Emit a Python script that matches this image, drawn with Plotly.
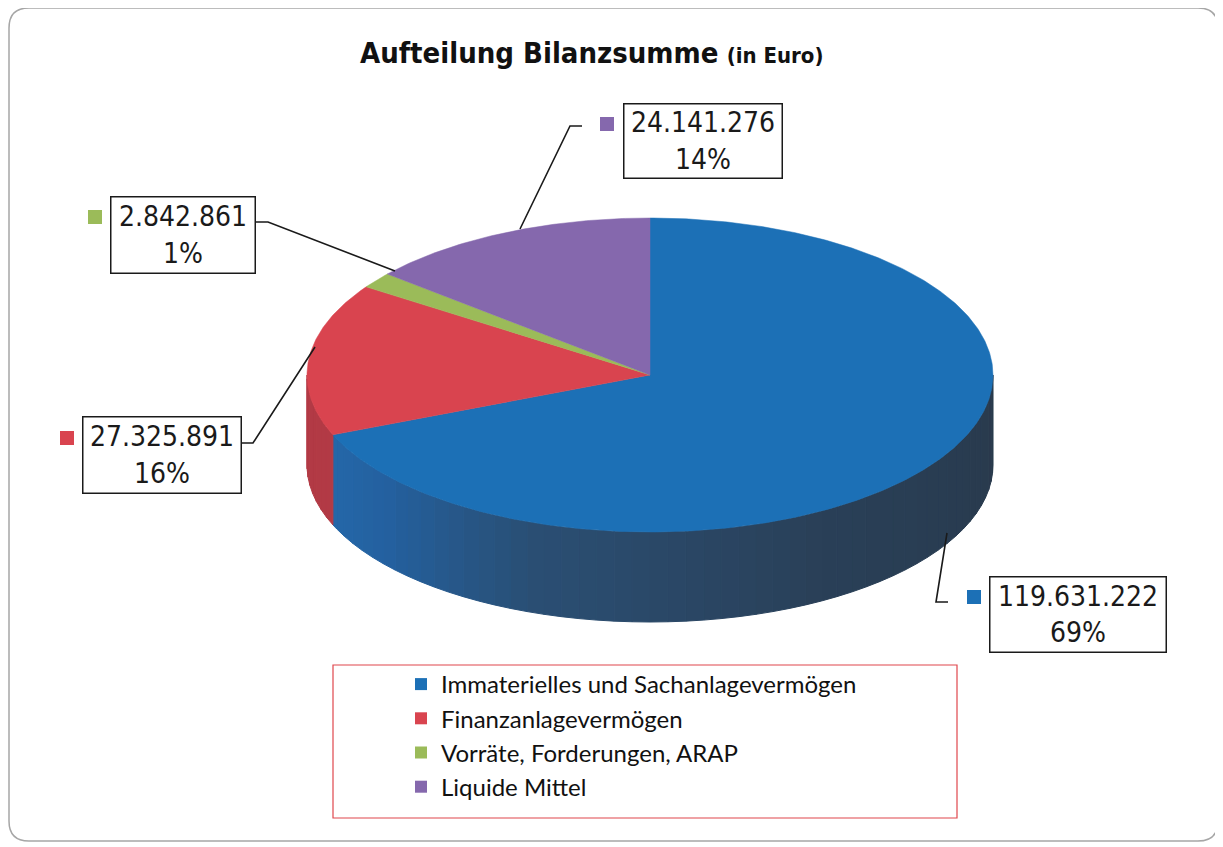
import numpy as np
import plotly.graph_objects as go

# ---------------- data ----------------
categories = [
    "Immaterielles und Sachanlagevermögen",
    "Finanzanlagevermögen",
    "Vorräte, Forderungen, ARAP",
    "Liquide Mittel",
]
values = [119631222, 27325891, 2842861, 24141276]
pct_labels = ["69%", "16%", "1%", "14%"]
title_main = "Aufteilung Bilanzsumme"
title_unit = "(in Euro)"

# ---------------- styles ----------------
top_colors = ["#1c70b6", "#d9444f", "#9bbb59", "#8568ad"]
side_red = "#b23a45"
W, H = 1223, 847
OFF = 8  # browser body margin
cx, cy, rx, ry, depth = 650, 375, 343, 157, 90

# label boxes (center x, center y, width, height), key square centre, leader path
boxes = [
    (1077.5, 614, 179, 78),
    (161.5, 454.5, 161, 79),
    (182.5, 234.5, 147, 79),
    (702.5, 140.5, 161, 77),
]
keys = [(974, 597), (67, 438), (95, 217), (607, 124)]
leaders = [
    [(948, 602), (936, 602), (947, 533)],
    [(242, 443), (253, 443), (315, 347)],
    [(256, 222), (268, 222), (395, 271)],
    [(582, 126), (570, 126), (520, 229)],
]

LABEL_FONT = "DejaVu Sans Condensed, DejaVu Sans, Liberation Sans, sans-serif"
LEGEND_FONT = "Lato, Open Sans, sans-serif"


def pt(theta_deg, dy=0.0):
    t = np.radians(theta_deg)
    return cx + rx * np.sin(t), cy - ry * np.cos(t) + dy


def hex2rgb(h):
    h = h.lstrip("#")
    return np.array([int(h[i:i + 2], 16) for i in (0, 2, 4)], dtype=float)


def interp_color(theta, stops):
    ths = [s[0] for s in stops]
    cols = [hex2rgb(s[1]) for s in stops]
    theta = min(max(theta, ths[0]), ths[-1])
    for i in range(len(ths) - 1):
        if ths[i] <= theta <= ths[i + 1]:
            f = (theta - ths[i]) / (ths[i + 1] - ths[i])
            c = cols[i] * (1 - f) + cols[i + 1] * f
            return "rgb(%d,%d,%d)" % tuple(c)
    c = cols[-1]
    return "rgb(%d,%d,%d)" % tuple(c)


blue_side_stops = [(90, "#293a4c"), (150, "#2a4058"), (200, "#2a4f74"),
                   (230, "#2461a0"), (249, "#2468aa")]

total = float(sum(values))
angles = np.concatenate([[0.0], np.cumsum(values) / total * 360.0])

fig = go.Figure()

# ---- side walls (front half only: 90..270 deg) ----
for i in range(len(values)):
    a0, a1 = angles[i], angles[i + 1]
    s0, s1 = max(a0, 90.0), min(a1, 270.0)
    if s1 <= s0:
        continue
    step = 3.0
    edges = list(np.arange(s0, s1, step)) + [s1]
    for j in range(len(edges) - 1):
        e0, e1 = edges[j], edges[j + 1]
        th = np.linspace(e0, e1, 6)
        xs_t, ys_t = pt(th)
        xs_b, ys_b = pt(th[::-1], depth)
        xs = np.concatenate([xs_t, xs_b, xs_t[:1]])
        ys = np.concatenate([ys_t, ys_b, ys_t[:1]])
        if i == 0:
            col = interp_color((e0 + e1) / 2, blue_side_stops)
        else:
            col = side_red
        fig.add_trace(go.Scatter(x=xs, y=ys, mode="lines", fill="toself",
                                 fillcolor=col, line=dict(color=col, width=1),
                                 hoverinfo="skip", showlegend=False))

# ---- top faces ----
for i in range(len(values)):
    a0, a1 = angles[i], angles[i + 1]
    th = np.linspace(a0, a1, max(int((a1 - a0) * 2), 4))
    xs, ys = pt(th)
    xs = np.concatenate([[cx], xs, [cx]])
    ys = np.concatenate([[cy], ys, [cy]])
    fig.add_trace(go.Scatter(x=xs, y=ys, mode="lines", fill="toself",
                             fillcolor=top_colors[i],
                             line=dict(color=top_colors[i], width=0.5),
                             hoverinfo="text",
                             text=categories[i], showlegend=False))

# ---- legend entries ----
for i, name in enumerate(categories):
    fig.add_trace(go.Scatter(x=[None], y=[None], mode="markers", name=name,
                             legendgroup=name,
                             marker=dict(symbol="square", size=12,
                                         color=top_colors[i])))

shapes = []
annotations = []

# outer rounded frame
r = 20
x0, y0, x1, y1 = 9, 8, 1218, 841
path = (f"M {x0 + r} {y0} L {x1 - r} {y0} Q {x1} {y0} {x1} {y0 + r} "
        f"L {x1} {y1 - r} Q {x1} {y1} {x1 - r} {y1} L {x0 + r} {y1} "
        f"Q {x0} {y1} {x0} {y1 - r} L {x0} {y0 + r} Q {x0} {y0} {x0 + r} {y0} Z")
shapes.append(dict(type="path", path=path, xref="x", yref="y",
                   line=dict(color="#a6a6a6", width=1.5), layer="below"))

# legend frame
shapes.append(dict(type="rect", xref="x", yref="y", x0=333, y0=665, x1=957,
                   y1=818, line=dict(color="#e0474c", width=1.2)))

for i in range(len(values)):
    bx, by, bw, bh = boxes[i]
    txt = f"{values[i]:,}".replace(",", ".") + "<br>" + pct_labels[i]
    annotations.append(dict(
        x=bx, y=by, xref="x", yref="y", text=txt, showarrow=False,
        xanchor="center", yanchor="middle", align="center",
        width=bw - 8, height=bh - 8, borderpad=2, borderwidth=1.5,
        bordercolor="#1a1a1a", bgcolor="white",
        font=dict(family=LABEL_FONT, size=28, color="#1a1a1a")))
    kx, ky = keys[i]
    shapes.append(dict(type="rect", xref="x", yref="y", x0=kx - 7, x1=kx + 7,
                       y0=ky - 7, y1=ky + 7, fillcolor=top_colors[i],
                       line=dict(width=0)))
    pts = leaders[i]
    p = "M " + " L ".join(f"{a} {b}" for a, b in pts)
    shapes.append(dict(type="path", path=p, xref="x", yref="y",
                       line=dict(color="#1a1a1a", width=1.6)))

annotations.append(dict(
    x=592, y=53, xref="x", yref="y", showarrow=False, xanchor="center",
    yanchor="middle",
    text=f"<b>{title_main}</b> <b><span style='font-size:22px'>{title_unit}</span></b>",
    font=dict(family=LABEL_FONT, size=29, color="#111111")))

FW, FH = W - OFF, H - OFF
fig.update_layout(
    width=FW, height=FH, autosize=False,
    margin=dict(l=0, r=0, t=0, b=0, pad=0),
    paper_bgcolor="white", plot_bgcolor="white",
    xaxis=dict(range=[OFF, W], visible=False, fixedrange=True),
    yaxis=dict(range=[H, OFF], visible=False, fixedrange=True),
    shapes=shapes, annotations=annotations,
    showlegend=True,
    legend=dict(x=(401 - OFF) / FW, y=1 - (662 - OFF) / FH,
                xanchor="left", yanchor="top",
                bgcolor="rgba(0,0,0,0)", borderwidth=0,
                font=dict(family=LEGEND_FONT, size=24, color="#111111"),
                tracegroupgap=0, traceorder="grouped"),
)

fig.write_html("out.html")
